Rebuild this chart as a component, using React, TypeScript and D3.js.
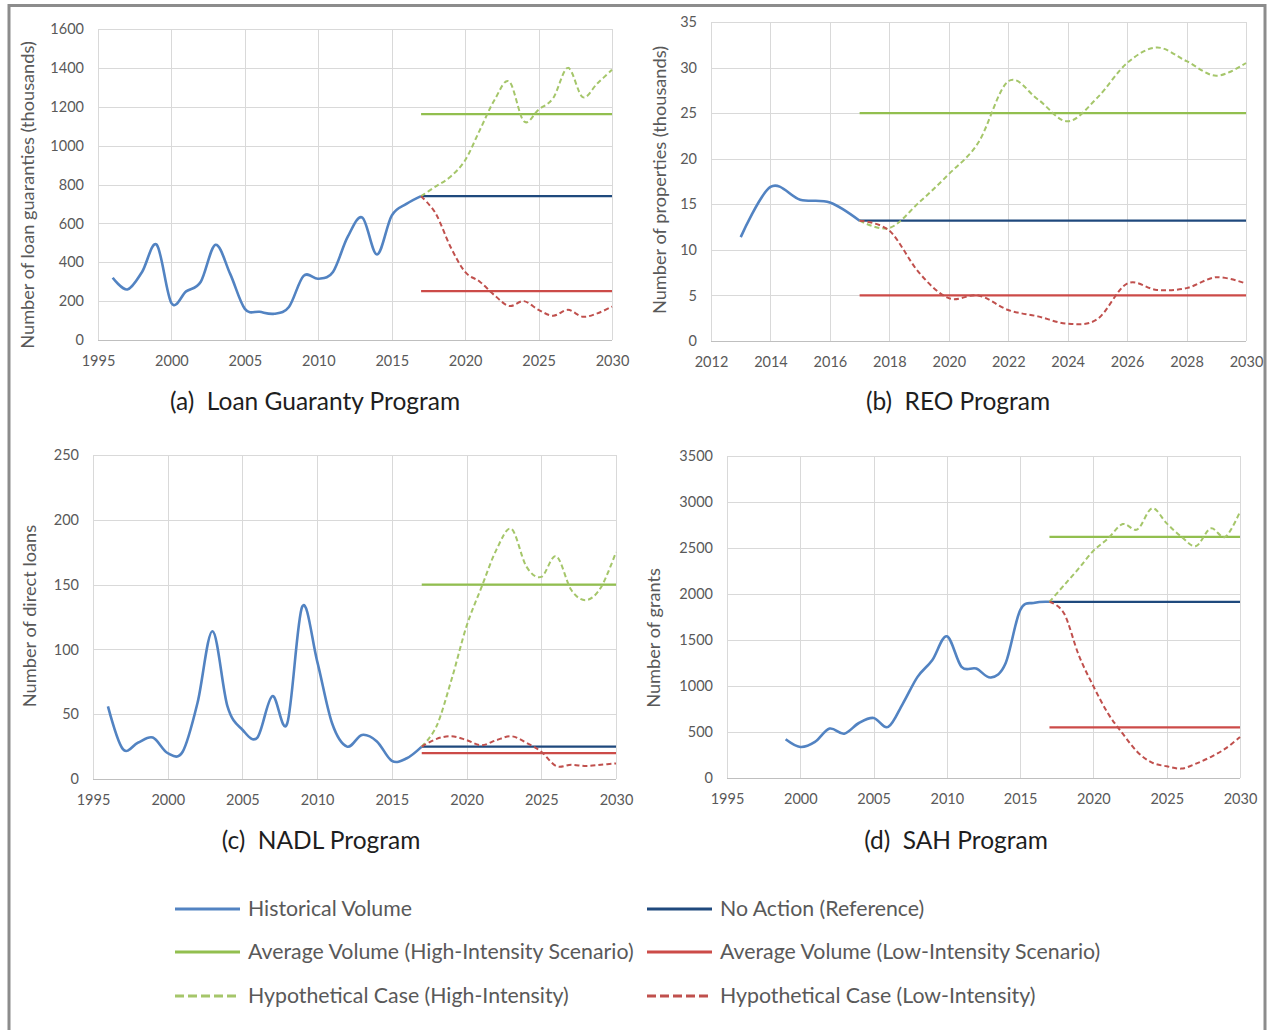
import { useEffect, useRef } from 'react';
import * as d3 from 'd3';

// projection years shared by all four programs
const projYears = [2017, 2018, 2019, 2020, 2021, 2022, 2023, 2024, 2025, 2026, 2027, 2028, 2029, 2030];

// (a) Loan Guaranty Program
const loanYears = [1996, 1997, 1998, 1999, 2000, 2001, 2002, 2003, 2004, 2005, 2006, 2007, 2008, 2009, 2010, 2011, 2012, 2013, 2014, 2015, 2016, 2017];
const loanHist = [320, 260, 350, 490, 190, 250, 300, 490, 340, 160, 145, 135, 170, 330, 315, 350, 530, 630, 440, 640, 700, 740];
const loanHigh = [740, 790, 840, 925, 1080, 1235, 1330, 1125, 1185, 1245, 1400, 1250, 1320, 1390];
const loanLow = [740, 650, 480, 350, 300, 230, 175, 200, 155, 125, 155, 120, 137, 172];
const loanLevels = { ref: 740, high: 1162, low: 251 };

// (b) REO Program
const reoYears = [2013, 2014, 2015, 2016, 2017];
const reoHist = [11.4, 16.9, 15.5, 15.2, 13.2];
const reoHigh = [13.2, 12.4, 15.2, 18.3, 21.8, 28.5, 26.5, 24.1, 26.7, 30.5, 32.2, 30.7, 29.1, 30.5];
const reoLow = [13.2, 12.1, 7.5, 4.7, 5.0, 3.4, 2.7, 1.9, 2.4, 6.3, 5.6, 5.8, 7.0, 6.3];
const reoLevels = { ref: 13.2, high: 25, low: 5 };

// (c) NADL Program
const nadlYears = [1996, 1997, 1998, 1999, 2000, 2001, 2002, 2003, 2004, 2005, 2006, 2007, 2008, 2009, 2010, 2011, 2012, 2013, 2014, 2015, 2016, 2017];
const nadlHist = [56, 23, 28, 32, 20, 21, 59, 114, 56, 38, 32, 64, 43, 133, 91, 43, 25, 34, 29, 14, 16, 25];
const nadlHigh = [25, 41, 77, 118, 148, 177, 193, 164, 156, 172, 146, 138, 148, 175];
const nadlLow = [25, 31, 33, 30, 26, 30, 33, 28, 21, 10, 11, 10, 11, 12];
const nadlLevels = { ref: 25, high: 150, low: 20 };

// (d) SAH Program
const sahYears = [1999, 2000, 2001, 2002, 2003, 2004, 2005, 2006, 2007, 2008, 2009, 2010, 2011, 2012, 2013, 2014, 2015, 2016, 2017];
const sahHist = [421, 337, 392, 537, 482, 598, 653, 555, 809, 1099, 1280, 1541, 1208, 1190, 1092, 1244, 1824, 1904, 1915];
const sahHigh = [1915, 2096, 2278, 2470, 2604, 2760, 2702, 2931, 2768, 2622, 2521, 2713, 2622, 2894];
const sahLow = [1915, 1788, 1335, 997, 700, 482, 283, 167, 127, 102, 156, 228, 319, 446];
const sahLevels = { ref: 1915, high: 2620, low: 550 };

const legendItems = [
  { label: 'Historical Volume', key: 'hist' },
  { label: 'No Action (Reference)', key: 'ref' },
  { label: 'Average Volume (High-Intensity Scenario)', key: 'highAvg' },
  { label: 'Average Volume (Low-Intensity Scenario)', key: 'lowAvg' },
  { label: 'Hypothetical Case (High-Intensity)', key: 'high' },
  { label: 'Hypothetical Case (Low-Intensity)', key: 'low' }
];

const COLORS = {
  hist: '#5283c2',
  ref: '#1f497d',
  highAvg: '#92bf4f',
  lowAvg: '#cc4b48',
  high: '#a5c66a',
  low: '#c0504d'
};
const DASHED = { high: true, low: true };

const FONT = 'Lato, "Open Sans", sans-serif';

const panels = [
  {
    title: '(a)  Loan Guaranty Program', yTitle: 'Number of loan guaranties (thousands)',
    box: { left: 98, right: 612, top: 29, bottom: 340 }, titlePos: [315, 401], yTitlePos: [28, 195],
    xDomain: [1995, 2030], xStep: 5, yDomain: [0, 1600], yStep: 200,
    years: loanYears, hist: loanHist, high: loanHigh, low: loanLow, levels: loanLevels
  },
  {
    title: '(b)  REO Program', yTitle: 'Number of properties (thousands)',
    box: { left: 711, right: 1246, top: 22, bottom: 341 }, titlePos: [958, 401], yTitlePos: [660, 180],
    xDomain: [2012, 2030], xStep: 2, yDomain: [0, 35], yStep: 5,
    years: reoYears, hist: reoHist, high: reoHigh, low: reoLow, levels: reoLevels
  },
  {
    title: '(c)  NADL Program', yTitle: 'Number of direct loans',
    box: { left: 93, right: 616, top: 455, bottom: 779 }, titlePos: [321, 840], yTitlePos: [30, 616],
    xDomain: [1995, 2030], xStep: 5, yDomain: [0, 250], yStep: 50,
    years: nadlYears, hist: nadlHist, high: nadlHigh, low: nadlLow, levels: nadlLevels
  },
  {
    title: '(d)  SAH Program', yTitle: 'Number of grants',
    box: { left: 727, right: 1240, top: 456, bottom: 778 }, titlePos: [956, 840], yTitlePos: [654, 638],
    xDomain: [1995, 2030], xStep: 5, yDomain: [0, 3500], yStep: 500,
    years: sahYears, hist: sahHist, high: sahHigh, low: sahLow, levels: sahLevels
  }
];

function drawPanel(svg: any, p: any) {
  const { box } = p;
  const x = d3.scaleLinear().domain(p.xDomain).range([box.left, box.right]);
  const y = d3.scaleLinear().domain(p.yDomain).range([box.bottom, box.top]);
  const g = svg.append('g');

  const xTicks = d3.range(p.xDomain[0], p.xDomain[1] + 0.001, p.xStep);
  const yTicks = d3.range(p.yDomain[0], p.yDomain[1] + 0.001, p.yStep);

  // grid
  g.selectAll('.vgrid')
    .data(xTicks)
    .join('line')
    .attr('x1', (d) => Math.round(x(d)) + 0.5)
    .attr('x2', (d) => Math.round(x(d)) + 0.5)
    .attr('y1', box.top)
    .attr('y2', box.bottom)
    .attr('stroke', '#d9d9d9');
  g.selectAll('.hgrid')
    .data(yTicks)
    .join('line')
    .attr('x1', box.left)
    .attr('x2', box.right)
    .attr('y1', (d) => Math.round(y(d)) + 0.5)
    .attr('y2', (d) => Math.round(y(d)) + 0.5)
    .attr('stroke', (d) => (d === 0 ? '#bfbfbf' : '#d9d9d9'));

  // axes via d3
  const yAxis = g.append('g')
    .attr('transform', `translate(${box.left - 6},0)`)
    .call(d3.axisLeft(y).tickValues(yTicks).tickSize(0).tickPadding(8).tickFormat(d3.format('d')));
  yAxis.select('.domain').remove();
  yAxis.selectAll('text').attr('fill', '#595959').attr('font-size', 14.5).attr('font-family', FONT);

  const xAxis = g.append('g')
    .attr('transform', `translate(0,${box.bottom + 8})`)
    .call(d3.axisBottom(x).tickValues(xTicks).tickSize(0).tickPadding(8).tickFormat(d3.format('d')));
  xAxis.select('.domain').remove();
  xAxis.selectAll('text').attr('fill', '#595959').attr('font-size', 14.5).attr('font-family', FONT);

  // average / reference levels
  const lvl = [
    { v: p.levels.high, c: COLORS.highAvg },
    { v: p.levels.low, c: COLORS.lowAvg },
    { v: p.levels.ref, c: COLORS.ref }
  ];
  g.selectAll('.lvl')
    .data(lvl)
    .join('line')
    .attr('x1', x(projYears[0]))
    .attr('x2', x(projYears[projYears.length - 1]))
    .attr('y1', (d) => y(d.v))
    .attr('y2', (d) => y(d.v))
    .attr('stroke', (d) => d.c)
    .attr('stroke-width', 2.2);

  const line = d3.line<[number, number]>()
    .x((d) => x(d[0]))
    .y((d) => y(d[1]))
    .curve(d3.curveCardinal.tension(0));

  const histPts = p.years.map((yr: number, i: number) => [yr, p.hist[i]]);
  g.append('path')
    .attr('d', line(histPts))
    .attr('fill', 'none')
    .attr('stroke', COLORS.hist)
    .attr('stroke-width', 2.6);

  [
    { vals: p.high, c: COLORS.high },
    { vals: p.low, c: COLORS.low }
  ].forEach((s) => {
    g.append('path')
      .attr('d', line(projYears.map((yr, i) => [yr, s.vals[i]])))
      .attr('fill', 'none')
      .attr('stroke', s.c)
      .attr('stroke-width', 2)
      .attr('stroke-dasharray', '5,3');
  });

  svg.append('text')
    .attr('x', p.titlePos[0])
    .attr('y', p.titlePos[1])
    .attr('dy', '0.35em')
    .attr('text-anchor', 'middle')
    .attr('font-family', FONT)
    .attr('font-size', 24.5)
    .attr('fill', '#1e1e1e')
    .style('white-space', 'pre')
    .text(p.title);

  svg.append('text')
    .attr('transform', `translate(${p.yTitlePos[0]},${p.yTitlePos[1]}) rotate(-90)`)
    .attr('dy', '0.35em')
    .attr('text-anchor', 'middle')
    .attr('font-family', FONT)
    .attr('font-size', 18.2)
    .attr('fill', '#595959')
    .text(p.yTitle);
}

export default function App() {
  const ref = useRef<SVGSVGElement | null>(null);

  useEffect(() => {
    const svg = d3.select(ref.current);
    svg.selectAll('*').remove();

    svg.append('rect').attr('width', 1267).attr('height', 1030).attr('fill', '#ffffff');
    // outer frame
    svg.append('rect')
      .attr('x', 9)
      .attr('y', 5.5)
      .attr('width', 1256)
      .attr('height', 1040)
      .attr('fill', 'none')
      .attr('stroke', '#8c8c8c')
      .attr('stroke-width', 3);

    panels.forEach((p) => drawPanel(svg, p));

    // legend
    const cols = [175, 647];
    const rows = [909, 952, 996];
    const leg = svg.append('g');
    legendItems.forEach((item, i) => {
      const lx = cols[i % 2];
      const ly = rows[Math.floor(i / 2)];
      const key = item.key as keyof typeof COLORS;
      leg.append('line')
        .attr('x1', lx)
        .attr('x2', lx + 65)
        .attr('y1', ly)
        .attr('y2', ly)
        .attr('stroke', COLORS[key])
        .attr('stroke-width', 3)
        .attr('stroke-dasharray', (DASHED as any)[key] ? '9,4' : null);
      leg.append('text')
        .attr('x', lx + 73)
        .attr('y', ly)
        .attr('dy', '0.35em')
        .attr('font-family', FONT)
        .attr('font-size', 21.3)
        .attr('fill', '#595959')
        .text(item.label);
    });
  }, []);

  return (
    <div style={{ position: 'absolute', left: 0, top: 0 }}>
      <svg ref={ref} width={1267} height={1030} style={{ display: 'block' }} />
    </div>
  );
}
